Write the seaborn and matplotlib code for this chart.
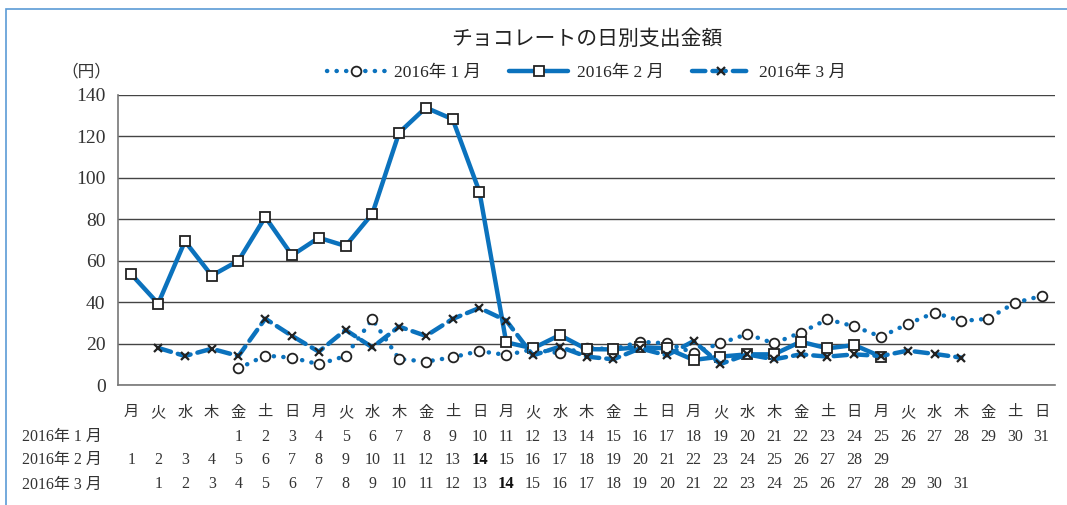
import numpy as np
import pandas as pd
import matplotlib.pyplot as plt
import matplotlib.patches as mpatches
import seaborn as sns

# weekday row (5 weeks, Monday start)
weekdays = ['月', '火', '水', '木', '金', '土', '日'] * 5

# daily chocolate spending (yen)
jan = [8.0, 14.2, 13.2, 10.0, 14.0, 31.7, 12.6, 11.3, 13.4, 16.4,
       14.5, 17.2, 15.3, 18.0, 17.2, 20.9, 20.1, 15.6, 20.1, 24.6,
       20.1, 25.3, 31.7, 28.3, 23.3, 29.5, 34.9, 30.9, 32.0, 39.7, 43.0]
feb = [53.4, 39.3, 69.4, 52.8, 60.0, 81.1, 62.6, 71.1, 67.1, 82.7,
       121.8, 133.9, 128.3, 93.3, 20.6, 17.7, 24.1, 17.3, 17.2, 18.3,
       17.7, 12.1, 13.7, 14.8, 14.8, 20.9, 17.7, 19.3, 13.7]
mar = [17.9, 14.0, 17.5, 14.0, 32.0, 23.7, 16.1, 26.6, 18.2, 28.2,
       23.7, 31.9, 37.2, 31.1, 14.3, 18.5, 13.7, 12.4, 17.7, 14.3,
       21.2, 10.1, 14.8, 12.4, 14.8, 13.7, 14.8, 14.0, 16.6, 15.0, 13.2]

# first weekday slot of each month
jan_start, feb_start, mar_start = 4, 0, 1

month_labels = ['2016年 1 月', '2016年 2 月', '2016年 3 月']

df_jan = pd.DataFrame({'pos': np.arange(len(jan)) + jan_start, 'value': jan})
df_feb = pd.DataFrame({'pos': np.arange(len(feb)) + feb_start, 'value': feb})
df_mar = pd.DataFrame({'pos': np.arange(len(mar)) + mar_start, 'value': mar})

sns.set_theme(style='white')
plt.rcParams['font.family'] = ['Liberation Serif', 'Noto Sans CJK JP']

blue = '#0b72bd'

fig = plt.figure(figsize=(10.67, 5.05), dpi=100)
ax = fig.add_axes([0.1106, 0.2376, 0.9888 - 0.1106, 0.8119 - 0.2376])

sns.lineplot(data=df_jan, x='pos', y='value', ax=ax, color=blue, lw=3.2,
             linestyle=(0, (0.05, 2.1)), dash_capstyle='round',
             marker='o', markersize=7, markerfacecolor='white',
             markeredgecolor='#222222', markeredgewidth=1.3, label=month_labels[0])
sns.lineplot(data=df_feb, x='pos', y='value', ax=ax, color=blue, lw=3.2,
             marker='s', markersize=7, markerfacecolor='white',
             markeredgecolor='#222222', markeredgewidth=1.3, label=month_labels[1])
sns.lineplot(data=df_mar, x='pos', y='value', ax=ax, color=blue, lw=3.2,
             linestyle=(0, (3.0, 1.6)), dash_capstyle='round',
             marker='x', markersize=6, markeredgecolor='#222222',
             markeredgewidth=1.6, label=month_labels[2])

ax.set_xlim(-0.5, 34.5)
ax.set_ylim(0, 140)
ax.set_yticks(range(0, 141, 20))
ax.set_yticklabels([str(v) for v in range(0, 141, 20)], fontsize=14, color='#333333')
ax.set_xticks(range(35))
ax.set_xticklabels(weekdays, fontsize=11, color='#333333')
ax.set_xticks(np.arange(-0.5, 35, 1), minor=True)
ax.tick_params(axis='x', which='major', length=0, pad=15)
ax.tick_params(axis='x', which='minor', length=4, width=1, color='#555555', direction='out')
ax.tick_params(axis='y', length=5, width=1, color='#555555', direction='out', pad=4)
ax.set_xlabel('')
ax.set_ylabel('')
ax.grid(axis='y', color='#444444', lw=1)
ax.grid(axis='x', visible=False)
for s in ['top', 'right']:
    ax.spines[s].set_visible(False)
for s in ['left', 'bottom']:
    ax.spines[s].set_color('#777777')
    ax.spines[s].set_linewidth(1.2)

# legend above the plot
ax.legend(loc='center', bbox_to_anchor=(0.5, 1.077), ncol=3, frameon=False,
          handlelength=3.4, columnspacing=1.6, handletextpad=0.5,
          fontsize=12.5, numpoints=1)

fig.text(0.55, 0.921, 'チョコレートの日別支出金額', ha='center', va='center',
         fontsize=15, color='#222222')
fig.text(0.081, 0.857, '（円）', ha='center', va='center', fontsize=12, color='#333333')

# day-of-month rows under the weekday axis
trans = ax.get_xaxis_transform()
row_y = [-0.18, -0.26, -0.343]
starts = [jan_start, feb_start, mar_start]
counts = [len(jan), len(feb), len(mar)]
for label, y, st, n in zip(month_labels, row_y, starts, counts):
    fig.text(22 / 1067, 0.2376 + y * (0.8119 - 0.2376), label, ha='left', va='center',
             fontsize=11.5, color='#333333')
    for d in range(1, n + 1):
        bold = (d == 14 and st != jan_start)
        ax.text(st + d - 1, y, str(d), transform=trans, ha='center', va='center',
                fontsize=12 if bold else 11.5, fontweight='bold' if bold else 'normal',
                color='#111111' if bold else '#333333', clip_on=False)

# frame around the chart
fig.patches.append(mpatches.Rectangle((6 / 1067, -0.1), 1.2, 1 - 9 / 505 + 0.1,
                                      transform=fig.transFigure, fill=False,
                                      edgecolor='#5b9bd5', lw=1.2))

fig.savefig('out.png', dpi=100)
